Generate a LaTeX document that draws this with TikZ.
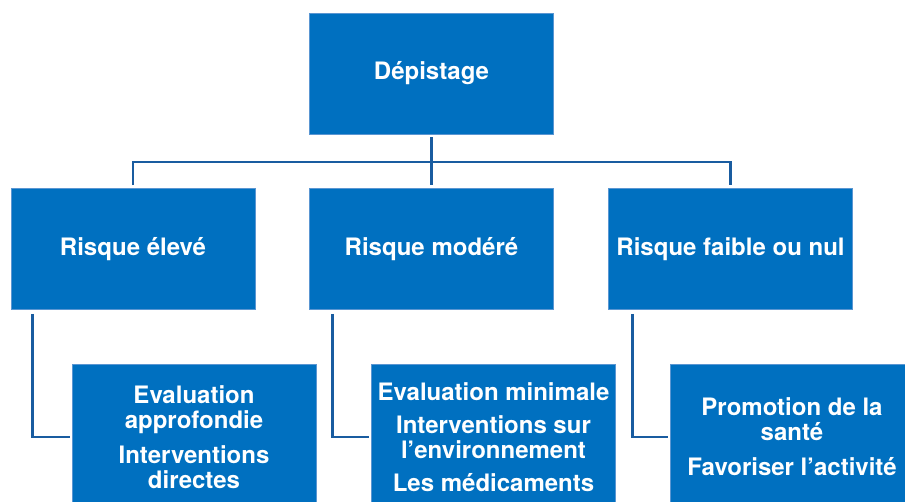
\documentclass[tikz,border=0pt]{standalone}
\usepackage{fontspec}
\setmainfont{TeX Gyre Heros}
\usetikzlibrary{calc}
\definecolor{bleu}{RGB}{0,112,192}
\definecolor{bord}{RGB}{90,150,210}
\definecolor{trait}{RGB}{25,92,160}
\tikzstyle{boite}=[fill=bleu,draw=bord,line width=0.6pt,text=white,align=center,
  minimum width=244pt,minimum height=121pt,inner sep=2pt,
  font=\fontsize{24}{25}\selectfont\bfseries]
\tikzstyle{bas}=[boite,minimum height=146pt]
\tikzstyle{lien}=[draw=trait,line width=2.6pt]

\begin{document}
\begin{tikzpicture}[x=1pt,y=1pt]
	\useasboundingbox (0,0) rectangle (905,-502);
	% niveau 1
	\node[boite] (depistage) at (431.5,-73.5) {Dépistage};
	% niveau 2
	\node[boite] (risque1) at (133,-249) {Risque élevé};
	\node[boite] (risque2) at (431.5,-249) {Risque modéré};
	\node[boite] (risque3) at (730.5,-249) {Risque faible ou nul};
	% niveau 3
	\node[bas] (bas1) at (194,-437) {Evaluation\\approfondie\\[10pt]Interventions\\directes};
	\node[bas] (bas2) at (493.5,-437) {Evaluation minimale\\[8pt]Interventions sur\\l’environnement\\[8pt]Les médicaments};
	\node[bas] (bas3) at (792,-437) {Promotion de la\\santé\\[10pt]Favoriser l’activité};
	% liens
	\coordinate (bus) at (431.5,-162);
	\draw[lien] ([yshift=-3pt]depistage.south) -- ([yshift=3pt]risque2.north);
	\draw[lien] ([yshift=3pt]risque1.north) |- (bus) -| ([yshift=3pt]risque3.north);
	\draw[lien] ([xshift=22pt,yshift=-4pt]risque1.south west) |- ([xshift=-2pt]bas1.west);
	\draw[lien] ([xshift=23pt,yshift=-4pt]risque2.south west) |- ([xshift=-2pt]bas2.west);
	\draw[lien] ([xshift=24pt,yshift=-4pt]risque3.south west) |- ([xshift=-2pt]bas3.west);
\end{tikzpicture}
\end{document}
